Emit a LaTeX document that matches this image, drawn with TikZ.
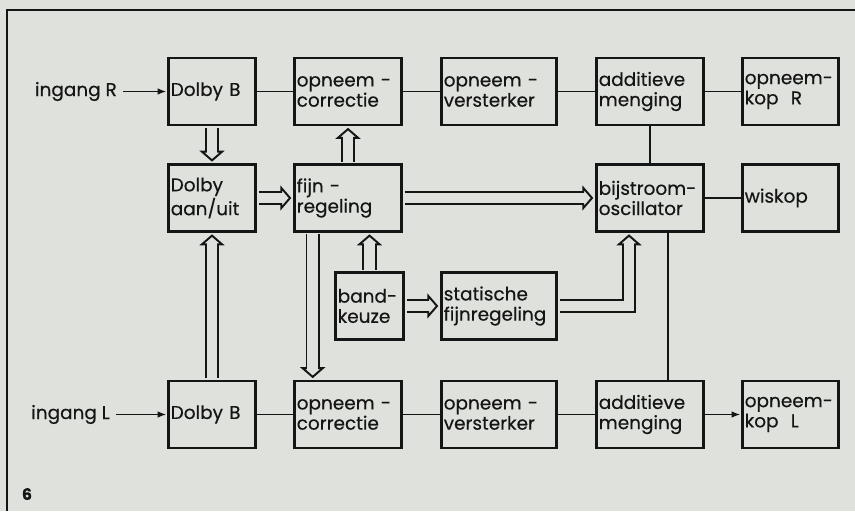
\documentclass[tikz,border=0pt]{standalone}
\usepackage{fontspec}
\setmainfont{Poppins}[FakeBold=0.4]
\usetikzlibrary{arrows.meta}
\exhyphenpenalty=10000
\definecolor{inkt}{HTML}{151515}
\definecolor{papier}{HTML}{DFE2DC}
\tikzset{
  blok/.style={draw=inkt,text=inkt,line width=1.6pt,minimum height=1.34cm,text width=#1,
    align=left,inner xsep=1.5pt,inner ysep=0pt,font=\fontsize{10.5}{11.5}\selectfont},
  tekst/.style={text=inkt,font=\fontsize{10.5}{11.5}\selectfont},
  lijn/.style={inkt,line width=1.1pt},
  pijl/.style={-{Latex[length=1.8mm,width=1.3mm]},inkt,line width=1.1pt},
  dubbel/.style={-{Triangle[open,fill=papier,length=2.2mm,width=5mm]},draw=inkt,
    double=papier,double distance=6pt,line width=1.1pt,shorten <=0.8pt,shorten >=0.8pt,
    postaction={draw=papier,-,line width=6pt,shorten <=0.8pt,shorten >=5.2pt}},
}

\begin{document}
\begin{tikzpicture}
  \useasboundingbox (0,0) rectangle (17.1,10.22);
  \fill[papier] (0,0) rectangle (17.1,10.22);
  \draw[inkt,line width=1.1pt] (0.14,0) -- (0.14,10.02) -- (17.1,10.02);

  \node[blok=1.65cm] (dolbyR) at (4.24,8.39) {Dolby B};
  \node[blok=2.05cm] (corrR) at (6.96,8.39) {opneem -\\correctie};
  \node[blok=2.21cm] (verstR) at (9.98,8.39) {opneem -\\versterker};
  \node[blok=2.05cm] (addR) at (13.0,8.39) {additieve\\menging};
  \node[blok=1.83cm] (kopR) at (15.81,8.39) {opneem-\\kop\ \ R};

  \node[blok=1.65cm] (aan) at (4.24,6.26) {Dolby\\aan/uit};
  \node[blok=2.05cm] (fijn) at (6.96,6.26) {fijn -\\regeling};
  \node[blok=2.05cm] (bij) at (13.0,6.26) {bijstroom-\\oscillator};
  \node[blok=1.83cm] (wis) at (15.81,6.26) {wiskop};

  \node[blok=1.27cm] (band) at (7.39,4.10) {band-\\keuze};
  \node[blok=2.21cm] (stat) at (9.98,4.10) {statische\\fijnregeling};

  \node[blok=1.65cm] (dolbyL) at (4.24,1.93) {Dolby B};
  \node[blok=2.05cm] (corrL) at (6.96,1.93) {opneem -\\correctie};
  \node[blok=2.21cm] (verstL) at (9.98,1.93) {opneem -\\versterker};
  \node[blok=2.05cm] (addL) at (13.0,1.93) {additieve\\menging};
  \node[blok=1.83cm] (kopL) at (15.81,1.93) {opneem-\\kop\ \ L};

  \node[tekst,anchor=east] (ingR) at (2.46,8.39) {ingang R};
  \node[tekst,anchor=east] (ingL) at (2.32,1.93) {ingang L};
  \node[text=inkt,font=\bfseries\small] (nr) at (0.54,0.34) {6};

  \draw[pijl] (ingR) -- (dolbyR);
  \draw[lijn] (dolbyR) -- (corrR);
  \draw[lijn] (corrR) -- (verstR);
  \draw[lijn] (verstR) -- (addR);
  \draw[lijn] (addR) -- (kopR);
  \draw[lijn] (addR) -- (bij);
  \draw[lijn] (bij) -- (wis);
  \draw[lijn] ([xshift=0.36cm]bij.south) -- ([xshift=0.36cm]addL.north);

  \draw[pijl] (ingL) -- (dolbyL);
  \draw[lijn] (dolbyL) -- (corrL);
  \draw[lijn] (corrL) -- (verstL);
  \draw[lijn] (verstL) -- (addL);
  \draw[pijl] (addL) -- (kopL);

  \draw[dubbel] (dolbyR) -- (aan);
  \draw[dubbel] (dolbyL) -- (aan);
  \draw[dubbel] (aan) -- (fijn);
  \draw[dubbel] (fijn) -- (corrR);
  \draw[dubbel] ([xshift=0.4cm]fijn.south west) -- ([xshift=0.4cm]corrL.north west);
  \draw[dubbel] (band) -- (band.north |- fijn.south);
  \draw[dubbel] (fijn) -- (bij);
  \draw[dubbel] (band) -- (stat);
  \draw[dubbel] (stat) -| ([xshift=-0.42cm]bij.south);
\end{tikzpicture}
\end{document}
